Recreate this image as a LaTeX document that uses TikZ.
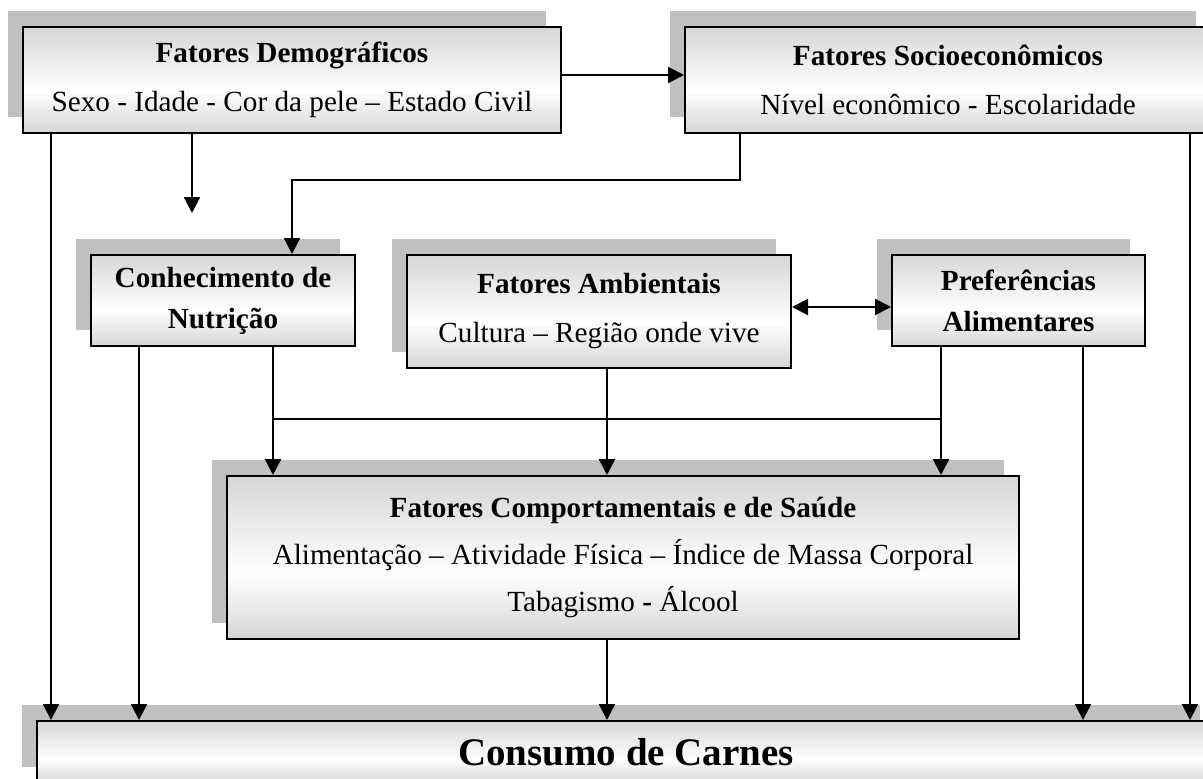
\documentclass[tikz,border=0pt]{standalone}
\usepackage{fontspec}
\setmainfont{Liberation Serif}
\usetikzlibrary{arrows.meta, shadows}
\definecolor{shadegray}{RGB}{192,192,192}
\definecolor{boxgray}{RGB}{214,214,214}
\pgfdeclareverticalshading{boxshade}{100bp}{color(0bp)=(boxgray); color(25bp)=(boxgray);
  color(45bp)=(white); color(75bp)=(boxgray); color(100bp)=(boxgray)}

\begin{document}
\begin{tikzpicture}[x=0.5pt, y=-0.5pt,
    box/.style={draw, line width=1pt, shading=boxshade, inner sep=0pt, align=center,
      general shadow={fill=shadegray, shadow xshift=-7.5pt, shadow yshift=8pt}},
    pairtext/.style={font=\fontsize{14.6}{24.5}\selectfont},
    boldtext/.style={font=\fontsize{14.6}{20.5}\selectfont\bfseries},
    arr/.style={line width=1.1pt, -{Triangle[length=8pt,width=8pt]}},
    dblarr/.style={line width=1.1pt, {Triangle[length=8pt,width=8pt]}-{Triangle[length=8pt,width=8pt]}},
    busline/.style={line width=0.8pt}]
  \useasboundingbox (0,0) rectangle (1203,778);

  % ---------- top row ----------
  \node[box, pairtext, minimum width=269pt, minimum height=53pt] (demo) at (292,80)
    {\textbf{Fatores Demográficos}\\Sexo - Idade - Cor da pele -- Estado Civil};
  \node[box, pairtext, minimum width=263pt, minimum height=53pt] (socio) at (948,80)
    {\textbf{Fatores Socioeconômicos}\\Nível econômico - Escolaridade};

  % ---------- middle row ----------
  \node[box, boldtext, minimum width=132pt, minimum height=45.5pt] (conhec) at (223,300.5)
    {Conhecimento de\\Nutrição};
  \node[box, pairtext, minimum width=192pt, minimum height=56.5pt] (amb) at (599,311.5)
    {\textbf{Fatores Ambientais}\\Cultura -- Região onde vive};
  \node[box, boldtext, minimum width=126.5pt, minimum height=45.5pt] (pref) at (1018.5,300.5)
    {Preferências\\Alimentares};

  % ---------- behaviour box ----------
  \node[box, font=\fontsize{14.6}{23.5}\selectfont, minimum width=396pt, minimum height=81.5pt]
    (comport) at (623,557.5)
    {\textbf{Fatores Comportamentais e de Saúde}\\
     Alimentação -- Atividade Física -- Índice de Massa Corporal\\
     Tabagismo \textbf{-} Álcool};

  % ---------- outcome ----------
  \node[box, font=\fontsize{19.5}{22}\selectfont\bfseries, minimum width=589pt, minimum height=31pt]
    (consumo) at (626,752) {Consumo de Carnes};

  % ---------- connector columns ----------
  \coordinate (cA) at (51,0);
  \coordinate (cB) at (139,0);
  \coordinate (cC) at (192,213);
  \coordinate (cD) at (273,419);
  \coordinate (cE) at (292,180);
  \coordinate (cF) at (607,0);
  \coordinate (cG) at (740,180);
  \coordinate (cH) at (941,419);
  \coordinate (cI) at (1083,0);
  \coordinate (cJ) at (1190,0);
  \coordinate (cK) at (0,307);

  % ---------- connectors ----------
  \draw[arr] ([yshift=2.5pt]demo.east) -- ([yshift=2.5pt]socio.west);
  \draw[arr] (demo.south -| cC) -- (cC);
  \draw[arr] (demo.south -| cA) -- (consumo.north -| cA);
  \draw[arr] (socio.south -| cG) -- (cG) -- (cE) -- (conhec.north -| cE);
  \draw[arr] (socio.south -| cJ) -- (consumo.north -| cJ);
  \draw[arr] (conhec.south -| cB) -- (consumo.north -| cB);
  \draw[arr] (conhec.south -| cD) -- (comport.north -| cD);
  \draw[dblarr] (amb.east |- cK) -- (pref.west |- cK);
  \draw[arr] (amb.south -| cF) -- (comport.north -| cF);
  \draw[arr] (pref.south -| cH) -- (comport.north -| cH);
  \draw[arr] (pref.south -| cI) -- (consumo.north -| cI);
  \draw[busline] (cD) -- (cH);
  \draw[arr] (comport.south -| cF) -- (consumo.north -| cF);

\end{tikzpicture}
\end{document}
